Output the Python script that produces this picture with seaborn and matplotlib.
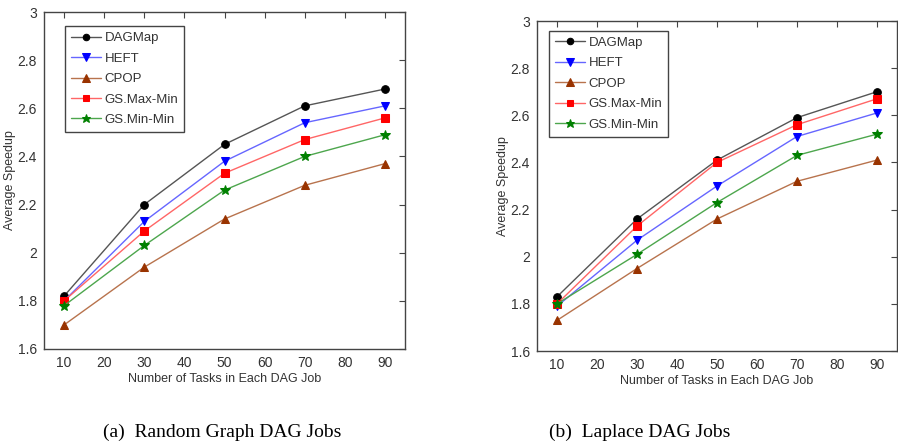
import numpy as np
import pandas as pd
import matplotlib
matplotlib.use("Agg")
import matplotlib.pyplot as plt
import seaborn as sns

# Data
tasks = [10, 30, 50, 70, 90]
methods = ["DAGMap", "HEFT", "CPOP", "GS.Max-Min", "GS.Min-Min"]

# (a) Random graph DAG jobs
rand_dagmap = [1.82, 2.20, 2.45, 2.61, 2.68]
rand_heft = [1.80, 2.13, 2.38, 2.54, 2.61]
rand_cpop = [1.70, 1.94, 2.14, 2.28, 2.37]
rand_maxmin = [1.80, 2.09, 2.33, 2.47, 2.56]
rand_minmin = [1.78, 2.03, 2.26, 2.40, 2.49]

# (b) Laplace DAG jobs
lap_dagmap = [1.83, 2.16, 2.41, 2.59, 2.70]
lap_heft = [1.79, 2.07, 2.30, 2.51, 2.61]
lap_cpop = [1.73, 1.95, 2.16, 2.32, 2.41]
lap_maxmin = [1.80, 2.13, 2.40, 2.56, 2.67]
lap_minmin = [1.80, 2.01, 2.23, 2.43, 2.52]

line_colors = {"DAGMap": "#555555", "HEFT": "#6666ff", "CPOP": "#b8734d",
               "GS.Max-Min": "#ff6666", "GS.Min-Min": "#4da64d"}
marker_colors = {"DAGMap": "black", "HEFT": "blue", "CPOP": "#993300",
                 "GS.Max-Min": "red", "GS.Min-Min": "green"}
markers = {"DAGMap": "o", "HEFT": "v", "CPOP": "^", "GS.Max-Min": "s", "GS.Min-Min": "*"}
msizes = {"DAGMap": 5.5, "HEFT": 6, "CPOP": 6, "GS.Max-Min": 5.5, "GS.Min-Min": 7.5}


def to_frame(series):
    rows = []
    for name, vals in zip(methods, series):
        for t, v in zip(tasks, vals):
            rows.append({"tasks": t, "speedup": v, "method": name})
    return pd.DataFrame(rows)


df_rand = to_frame([rand_dagmap, rand_heft, rand_cpop, rand_maxmin, rand_minmin])
df_lap = to_frame([lap_dagmap, lap_heft, lap_cpop, lap_maxmin, lap_minmin])

sns.set_theme(style="white")
plt.rcParams["font.family"] = ["Liberation Sans", "DejaVu Sans"]

fig = plt.figure(figsize=(8.98, 4.47), dpi=100)
W, H = 898, 447
ax1 = fig.add_axes([44 / W, 1 - 349 / H, (405 - 44) / W, (349 - 12) / H])
ax2 = fig.add_axes([537 / W, 1 - 351 / H, (897 - 537) / W, (351 - 21) / H])

grey = "#444444"
for ax, df, leg_anchor in [(ax1, df_rand, (0.058, 0.958)), (ax2, df_lap, (0.033, 0.97))]:
    for name in methods:
        sub = df[df["method"] == name]
        sns.lineplot(data=sub, x="tasks", y="speedup", ax=ax, color=line_colors[name],
                     linewidth=1.0, marker=markers[name], markersize=msizes[name],
                     markerfacecolor=marker_colors[name], markeredgecolor=marker_colors[name],
                     label=name)
    ax.set_xlim(5, 95)
    ax.set_ylim(1.6, 3.0)
    ax.set_xticks([10, 20, 30, 40, 50, 60, 70, 80, 90])
    ax.set_yticks([1.6, 1.8, 2.0, 2.2, 2.4, 2.6, 2.8, 3.0])
    ax.set_yticklabels(["1.6", "1.8", "2", "2.2", "2.4", "2.6", "2.8", "3"])
    ax.tick_params(direction="in", top=True, right=True, length=4, width=0.8,
                   colors=grey, labelsize=10, labelcolor="#333333", pad=5)
    for s in ax.spines.values():
        s.set_color(grey)
        s.set_linewidth(1.0)
    ax.set_xlabel("Number of Tasks in Each DAG Job", fontsize=9, color="#333333", labelpad=2)
    ax.set_ylabel("Average Speedup", fontsize=9, color="#333333", labelpad=1)
    leg = ax.legend(loc="upper left", bbox_to_anchor=leg_anchor, fontsize=9.5,
                    frameon=True, fancybox=False, edgecolor=grey, handlelength=2.3,
                    borderpad=0.45, labelspacing=0.62, handletextpad=0.25, framealpha=1,
                    markerscale=0.85, borderaxespad=0)
    leg.get_frame().set_linewidth(1.0)
    for txt in leg.get_texts():
        txt.set_color("#333333")

fig.text(222 / W, 1 - 432 / H, "(a)  Random Graph DAG Jobs", ha="center", va="center",
         fontsize=14, family="Liberation Serif", color="black")
fig.text(640 / W, 1 - 432 / H, "(b)  Laplace DAG Jobs", ha="center", va="center",
         fontsize=14, family="Liberation Serif", color="black")

fig.savefig("out.png", dpi=100)
